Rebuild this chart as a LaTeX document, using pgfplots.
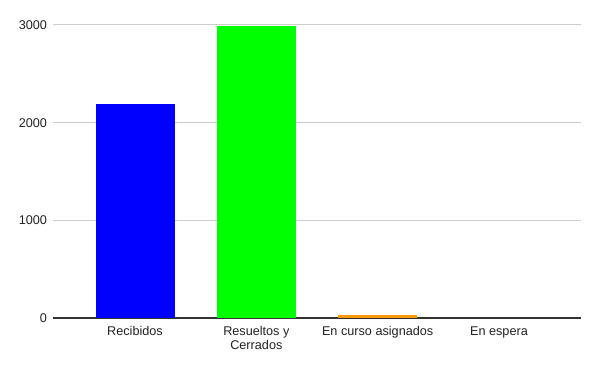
\documentclass[border=0pt]{standalone}
\usepackage{pgfplots}
\pgfplotsset{compat=1.18}
\usepackage{fontspec}
\setmainfont{Liberation Sans}
\definecolor{gridc}{HTML}{CCCCCC}
\definecolor{axc}{HTML}{333333}
\definecolor{txt}{HTML}{222222}
\definecolor{cblue}{HTML}{0000FF}
\definecolor{cgreen}{HTML}{00FF00}
\definecolor{corange}{HTML}{FF9900}
\begin{document}
\begin{tikzpicture}
\useasboundingbox (-39.75pt,-39.75pt) rectangle (410.25pt,238.5pt);
\begin{axis}[
  scale only axis,
  width=396pt, height=219.75pt,
  xmin=-0.676, xmax=3.676,
  ymin=0, ymax=3000,
  ytick={0,1000,2000,3000},
  xtick={0,1,2,3},
  xticklabels={Recibidos,{Resueltos y\\Cerrados},En curso asignados,En espera},
  xticklabel style={align=center, text=txt, font=\fontsize{9.5}{10.5}\selectfont, yshift=-3pt},
  yticklabel style={text=txt, font=\fontsize{9.5}{11.5}\selectfont, xshift=-1pt},
  /pgf/number format/assume math mode=true,
  /pgf/number format/1000 sep={},
  ymajorgrids, grid style={gridc, line width=0.75pt},
  axis x line*=bottom,
  axis y line*=left,
  y axis line style={draw=none},
  x axis line style={axc, line width=0.9pt, -},
  major tick length=0pt,
  tick style={draw=none},
  ybar, bar width=59.25pt, bar shift=0pt,
  clip=false,
]
\addplot[fill=cblue, draw=none] coordinates {(0,2190)};
\addplot[fill=cgreen, draw=none] coordinates {(1,2990)};
\addplot[fill=corange, draw=none] coordinates {(2,35)};
\addplot[fill=none, draw=none] coordinates {(3,0)};
\end{axis}
\end{tikzpicture}
\end{document}
